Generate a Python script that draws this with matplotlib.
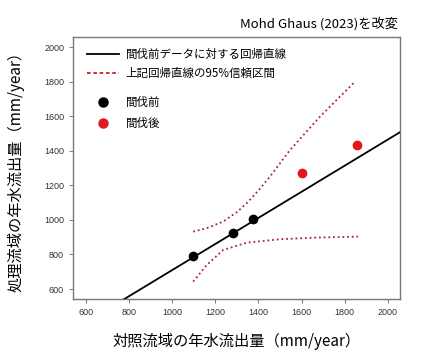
import matplotlib
matplotlib.use("Agg")
import matplotlib.pyplot as plt
from matplotlib.lines import Line2D

plt.rcParams['font.family'] = ['Noto Sans CJK JP', 'DejaVu Sans']

# Data
before_x = [1095, 1283, 1373]
before_y = [791, 923, 1005]
after_x = [1601, 1855]
after_y = [1270, 1433]

reg_x = [775, 2060]
reg_y = [540, 1510]

ci_x_upper = [1097, 1160, 1236, 1300, 1345, 1400, 1453, 1546, 1685, 1847]
ci_upper = [932, 952, 990, 1045, 1096, 1170, 1250, 1404, 1597, 1799]
ci_x_lower = [1097, 1160, 1236, 1345, 1499, 1654, 1862]
ci_lower = [643, 739, 826, 868, 888, 897, 903]

xticks = [600, 800, 1000, 1200, 1400, 1600, 1800, 2000]
yticks = [600, 800, 1000, 1200, 1400, 1600, 1800, 2000]

fig = plt.figure(figsize=(4.30, 3.56), dpi=100)
ax = fig.add_axes([0.170, 0.160, 0.760, 0.736])

ci_color = '#a8282e'
ax.plot(reg_x, reg_y, color='black', lw=1.3, zorder=3)
ax.plot(ci_x_upper, ci_upper, color=ci_color, lw=1.3, ls=(0, (1, 1.6)), zorder=2)
ax.plot(ci_x_lower, ci_lower, color=ci_color, lw=1.3, ls=(0, (1, 1.6)), zorder=2)
ax.scatter(before_x, before_y, s=36, color='black', zorder=4)
ax.scatter(after_x, after_y, s=36, color='#e0191e', zorder=4)

ax.set_xlim(540, 2056)
ax.set_ylim(542, 2058)
ax.set_xticks(xticks)
ax.set_yticks(yticks)
ax.tick_params(labelsize=6.5, colors='#333333', length=3, width=0.6, color='#666666')
for lab in ax.get_xticklabels() + ax.get_yticklabels():
    lab.set_family(['Liberation Sans', 'DejaVu Sans'])
for s in ax.spines.values():
    s.set_color('#777777')
    s.set_linewidth(1.0)

ax.set_xlabel('対照流域の年水流出量（mm/year）', fontsize=11, labelpad=11)
ax.set_ylabel('処理流域の年水流出量（mm/year）', fontsize=11, labelpad=14)

fig.text(0.925, 0.935, 'Mohd Ghaus (2023)を改変', fontsize=9.5, ha='right', va='center')

h1 = [Line2D([0], [0], color='black', lw=1.3),
      Line2D([0], [0], color='#cc2028', lw=1.3, ls=(0, (2, 1.5)))]
leg1 = ax.legend(h1, ['間伐前データに対する回帰直線', '上記回帰直線の95%信頼区間'],
                 loc='upper left', bbox_to_anchor=(0.02, 0.985), frameon=False,
                 fontsize=8.3, handlelength=2.8, handletextpad=0.6, labelspacing=0.55,
                 borderaxespad=0.2)
ax.add_artist(leg1)
h2 = [Line2D([0], [0], marker='o', color='black', ls='none', markersize=6.5),
      Line2D([0], [0], marker='o', color='#e0191e', ls='none', markersize=6.5)]
ax.legend(h2, ['間伐前', '間伐後'], loc='upper left', bbox_to_anchor=(0.02, 0.80),
          frameon=False, fontsize=8.3, handlelength=2.8, handletextpad=0.6,
          labelspacing=0.7, borderaxespad=0.2)

fig.savefig('out.png', dpi=100)
